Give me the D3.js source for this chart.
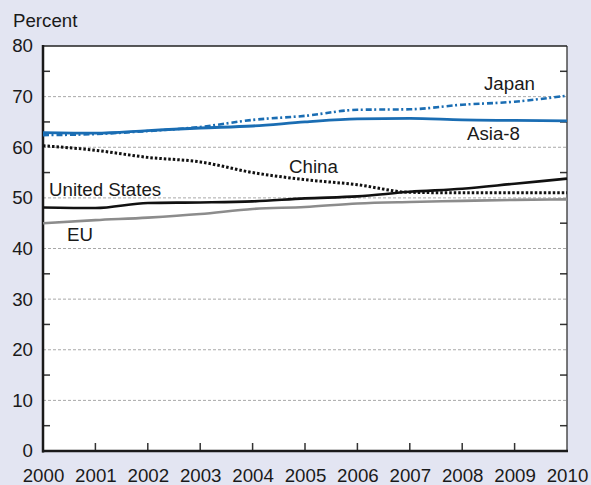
<!DOCTYPE html>
<html><head><meta charset="utf-8">
<script src="https://cdn.jsdelivr.net/npm/d3@7"></script>
<style>
html,body{margin:0;padding:0;background:#e3e5f2;}
svg{display:block;font-family:"Liberation Sans",Arial,sans-serif;}
</style></head>
<body>
<svg id="chart" width="591" height="485"></svg>
<script>
const years = [2000,2001,2002,2003,2004,2005,2006,2007,2008,2009,2010];
const japan = [62.4,62.6,63.2,64.0,65.4,66.2,67.4,67.5,68.4,69.0,70.2];
const asia8 = [62.9,62.8,63.3,63.8,64.2,65.0,65.6,65.7,65.4,65.3,65.2];
const china = [60.3,59.4,58.0,57.1,55.0,53.6,52.6,51.1,51.0,51.0,51.0];
const unitedStates = [48.1,48.0,49.0,49.1,49.3,49.9,50.3,51.2,51.8,52.8,53.8];
const eu = [45.0,45.6,46.1,46.8,47.8,48.2,48.9,49.2,49.4,49.6,49.7];
const yTicks = [0,10,20,30,40,50,60,70,80];
const yMinor = [5,15,25,35,45,55,65,75];
const seriesNames = ["Japan","Asia-8","China","United States","EU"];

const FS = 18.7;
const svg = d3.select("#chart");
const x = d3.scaleLinear().domain([2000,2010]).range([43,567]);
const y = d3.scaleLinear().domain([0,80]).range([451,46]);

svg.append("rect").attr("width",591).attr("height",485).attr("fill","#e3e5f2");
svg.append("rect").attr("x",x(2000)).attr("y",y(80)).attr("width",x(2010)-x(2000)).attr("height",y(0)-y(80)).attr("fill","#fff");

// gridlines
svg.append("g").selectAll("line").data(yTicks.filter(d=>d>0&&d<80)).join("line")
  .attr("x1",x(2000)).attr("x2",x(2010)).attr("y1",d=>y(d)).attr("y2",d=>y(d))
  .attr("stroke","#a8a8a8").attr("stroke-width",1).attr("stroke-dasharray","3,2");

// left axis labels
const yAxis = d3.axisLeft(y).tickValues(yTicks).tickSize(0).tickPadding(10);
const gy = svg.append("g").attr("transform",`translate(${x(2000)},0)`).call(yAxis);
gy.select(".domain").remove();
gy.selectAll("text").attr("font-size",FS).attr("fill","#1a1a1a").attr("font-family","Liberation Sans, Arial, sans-serif");

// minor ticks left & right (inward)
svg.append("g").selectAll("line").data(yMinor).join("line")
  .attr("x1",x(2000)).attr("x2",x(2000)+7).attr("y1",d=>y(d)).attr("y2",d=>y(d))
  .attr("stroke","#333").attr("stroke-width",1.5);
svg.append("g").selectAll("line").data(yMinor).join("line")
  .attr("x1",x(2010)).attr("x2",x(2010)-7).attr("y1",d=>y(d)).attr("y2",d=>y(d))
  .attr("stroke","#333").attr("stroke-width",1.5);

// bottom axis
const xAxis = d3.axisBottom(x).tickValues(years).tickFormat(d3.format("d")).tickSize(0).tickPadding(18);
const gx = svg.append("g").attr("transform",`translate(0,${y(0)})`).call(xAxis);
gx.select(".domain").remove();
gx.selectAll("text").attr("font-size",FS).attr("fill","#1a1a1a").attr("font-family","Liberation Sans, Arial, sans-serif");
svg.append("g").selectAll("line").data(years.slice(1,-1)).join("line")
  .attr("x1",d=>x(d)).attr("x2",d=>x(d)).attr("y1",y(0)).attr("y2",y(0)-8)
  .attr("stroke","#333").attr("stroke-width",1.5);

// frame
svg.append("line").attr("x1",x(2000)).attr("x2",x(2010)).attr("y1",y(80)).attr("y2",y(80)).attr("stroke","#222").attr("stroke-width",1.5);
svg.append("line").attr("x1",x(2010)).attr("x2",x(2010)).attr("y1",y(80)).attr("y2",y(0)).attr("stroke","#222").attr("stroke-width",1.2);
svg.append("line").attr("x1",x(2000)).attr("x2",x(2000)).attr("y1",y(80)-1).attr("y2",y(0)+1.5).attr("stroke","#1a1a1a").attr("stroke-width",2.5);
svg.append("line").attr("x1",x(2000)-1).attr("x2",x(2010)+1).attr("y1",y(0)).attr("y2",y(0)).attr("stroke","#1a1a1a").attr("stroke-width",2.5);

// lines
const line = d3.line().x((d,i)=>x(years[i])).y(d=>y(d)).curve(d3.curveMonotoneX);
const styles = [
  {data:eu, color:"#8c8c8c", w:2.6, dash:null},
  {data:unitedStates, color:"#111", w:2.6, dash:null},
  {data:china, color:"#111", w:3, dash:"2.5,2"},
  {data:asia8, color:"#1a6db3", w:2.8, dash:null},
  {data:japan, color:"#1a6db3", w:2.6, dash:"6,2.5,2,3"}
];
svg.append("g").selectAll("path").data(styles).join("path")
  .attr("d",d=>line(d.data)).attr("fill","none")
  .attr("stroke",d=>d.color).attr("stroke-width",d=>d.w)
  .attr("stroke-dasharray",d=>d.dash);

// labels
const labels = [
  {t:"Japan", x:484, y:90},
  {t:"Asia-8", x:467, y:140},
  {t:"China", x:289, y:173},
  {t:"United States", x:49, y:196},
  {t:"EU", x:67, y:241}
];
svg.append("g").selectAll("text").data(labels).join("text")
  .attr("x",d=>d.x).attr("y",d=>d.y).text(d=>d.t)
  .attr("font-size",FS).attr("fill","#1a1a1a");

svg.append("text").attr("x",13).attr("y",27).text("Percent").attr("font-size",FS).attr("fill","#1a1a1a");
</script>
</body></html>
